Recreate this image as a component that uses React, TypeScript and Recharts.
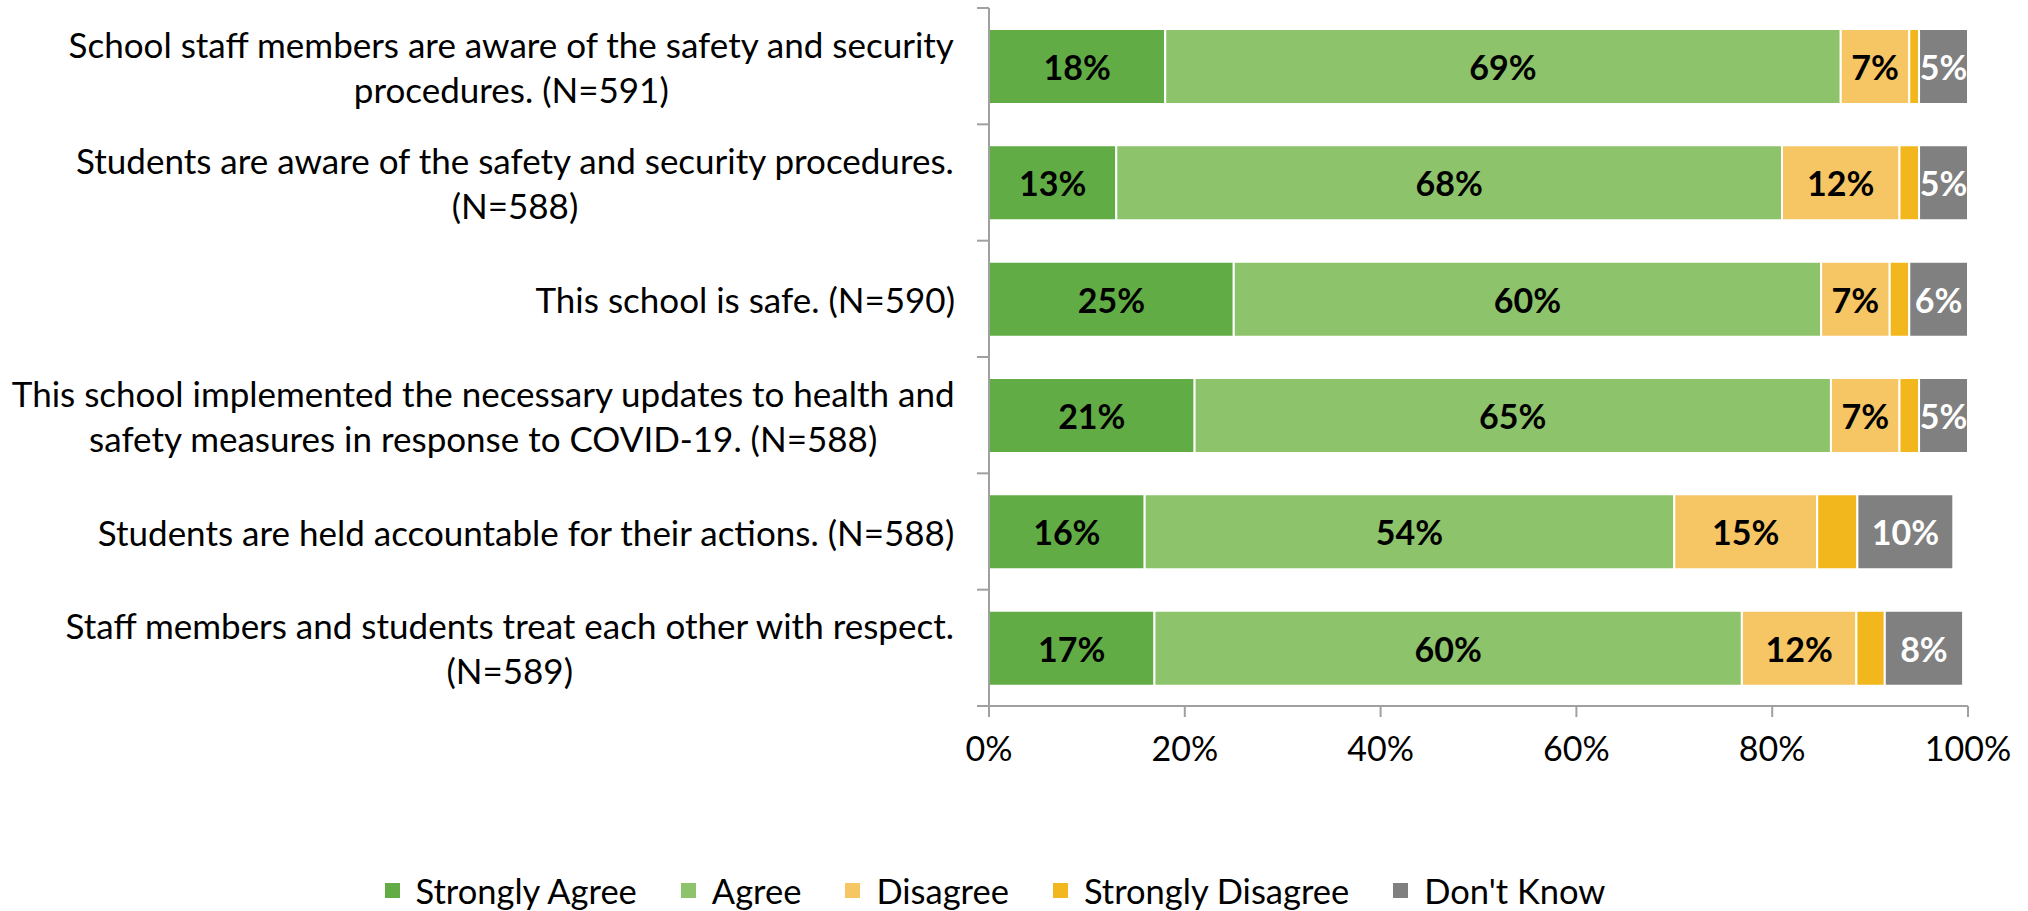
import { BarChart, Bar, XAxis, YAxis, LabelList, Legend } from 'recharts'

const categories = [
  'School staff members are aware of the safety and security\nprocedures. (N=591)',
  'Students are aware of the safety and security procedures.\n(N=588)',
  'This school is safe. (N=590)',
  'This school implemented the necessary updates to health and\nsafety measures in response to COVID-19. (N=588)',
  'Students are held accountable for their actions. (N=588)',
  'Staff members and students treat each other with respect.\n(N=589)',
]

const stronglyAgree = [18, 13, 25, 21, 15.9, 16.9]
const agree = [69, 68, 60, 65, 54.1, 60]
const disagree = [7, 12, 7, 7, 14.6, 11.7]
const stronglyDisagree = [1, 2, 2, 2, 4.1, 2.9]
const dontKnow = [5, 5, 6, 5, 9.8, 8]

const xTicks = [0, 20, 40, 60, 80, 100]

const FONT = "Lato, 'Open Sans', sans-serif"
const AXIS = '#A0A0A0'
const LABEL_GAP = 34

const data = categories.map((label, i) => ({
  label,
  sa: stronglyAgree[i],
  a: agree[i],
  d: disagree[i],
  sd: stronglyDisagree[i],
  dk: dontKnow[i],
}))

const series = [
  { key: 'sa', name: 'Strongly Agree', color: '#62AC46', text: '#000', showLabel: true },
  { key: 'a', name: 'Agree', color: '#8DC36A', text: '#000', showLabel: true },
  { key: 'd', name: 'Disagree', color: '#F6C564', text: '#000', showLabel: true },
  { key: 'sd', name: 'Strongly Disagree', color: '#F2B71C', text: '#000', showLabel: false },
  { key: 'dk', name: "Don't Know", color: '#808080', text: '#fff', showLabel: true },
]

let ctx: CanvasRenderingContext2D | null = null
function measure(s: string, size: number) {
  if (!ctx) ctx = document.createElement('canvas').getContext('2d')
  if (!ctx) return s.length * size * 0.5
  ctx.font = `${size}px ${FONT}`
  return ctx.measureText(s).width
}

// category labels centred as a block, right aligned, with tick marks on the band edges
function CategoryTick(props: any) {
  const { x, y, payload, index, visibleTicksCount } = props
  const lines: string[] = String(payload.value).split('\n')
  const maxW = Math.max(...lines.map((l) => measure(l, 35)))
  const cx = x - maxW / 2
  const axisX = x + LABEL_GAP
  const half = payload.offset ?? 0
  const isLast = index === (visibleTicksCount ?? categories.length) - 1
  return (
    <g>
      <line x1={axisX - 12} x2={axisX} y1={y - half} y2={y - half} stroke={AXIS} strokeWidth={2} />
      {isLast && <line x1={axisX - 12} x2={axisX} y1={y + half} y2={y + half} stroke={AXIS} strokeWidth={2} />}
      {lines.map((l, i) => (
        <text
          key={i}
          x={cx}
          y={y + (i - (lines.length - 1) / 2) * 45}
          textAnchor="middle"
          dominantBaseline="central"
          fill="#000"
          fontSize={35}
          fontFamily={FONT}
        >
          {l}
        </text>
      ))}
    </g>
  )
}

const segmentLabel = (color: string) => (props: any) => {
  const box = props.viewBox ?? props
  const { x, y, width, height } = box
  return (
    <text
      x={x + width / 2}
      y={y + height / 2}
      textAnchor="middle"
      dominantBaseline="central"
      fill={color}
      fontSize={34}
      fontWeight={700}
      fontFamily={FONT}
    >
      {`${Math.round(props.value)}%`}
    </text>
  )
}

function LegendContent() {
  return (
    <div style={{ display: 'flex', justifyContent: 'center', alignItems: 'center', fontFamily: FONT, fontSize: 34.5, color: '#000' }}>
      {series.map((s) => (
        <div key={s.key} style={{ display: 'flex', alignItems: 'center', margin: '0 22px' }}>
          <span style={{ width: 15, height: 15, background: s.color, display: 'inline-block', marginRight: 16 }} />
          <span>{s.name}</span>
        </div>
      ))}
    </div>
  )
}

export default function App() {
  return (
    <div style={{ position: 'absolute', left: 0, top: 0, width: 2028, height: 911, background: '#fff' }}>
      <BarChart
        width={2028}
        height={911}
        data={data}
        layout="vertical"
        barSize={75}
        margin={{ top: 8, right: 60, left: 0, bottom: 145 }}
      >
        <YAxis
          type="category"
          dataKey="label"
          width={989}
          interval={0}
          tickSize={0}
          tickMargin={LABEL_GAP}
          tick={<CategoryTick />}
          axisLine={{ stroke: AXIS, strokeWidth: 2 }}
          tickLine={false}
        />
        <XAxis
          type="number"
          domain={[0, 100]}
          ticks={xTicks}
          height={60}
          tickFormatter={(v) => `${v}%`}
          tick={{ fill: '#000', fontSize: 34, fontFamily: FONT }}
          tickSize={11}
          tickMargin={20}
          axisLine={{ stroke: AXIS, strokeWidth: 2 }}
          tickLine={{ stroke: AXIS, strokeWidth: 2 }}
        />
        {series.map((s) => (
          <Bar
            key={s.key}
            dataKey={s.key}
            name={s.name}
            stackId="s"
            fill={s.color}
            stroke="#fff"
            strokeWidth={2}
            isAnimationActive={false}
          >
            {s.showLabel && <LabelList dataKey={s.key} content={segmentLabel(s.text)} />}
          </Bar>
        ))}
        <Legend
          layout="horizontal"
          verticalAlign="middle"
          align="center"
          content={<LegendContent />}
          wrapperStyle={{ top: 870, left: 0, width: 1990 }}
        />
      </BarChart>
    </div>
  )
}
